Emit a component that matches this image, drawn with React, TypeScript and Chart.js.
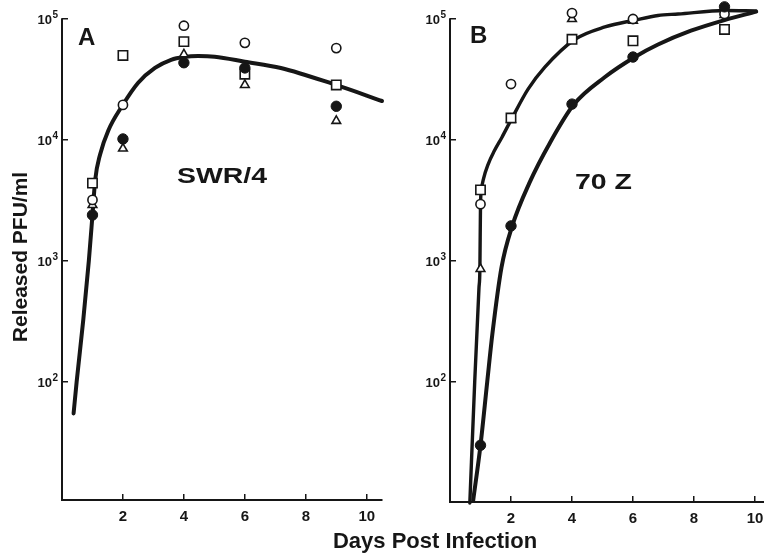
import React, { useEffect, useRef } from "react";
import { Chart, registerables } from "chart.js";

Chart.register(...registerables);

// ---------- data ----------
const days = [1, 2, 4, 6, 9];

// Panel A (SWR/4)
const aOpenCircle = [3200, 19500, 88000, 63500, 57500];
const aFilledCircle = [2400, 10200, 43500, 39400, 19000];
const aOpenSquare = [4400, 50000, 65000, 35000, 28500];
const aOpenTriangle = [2900, 8500, 51000, 28500, 14400];

const curveADays = [0.38, 0.48, 0.7, 0.88, 1.0, 1.09, 1.25, 1.52, 1.99, 2.5, 3.05, 3.58, 4.0, 4.47, 5.01, 6.0, 7.18, 8.99, 10.5];
const curveAPfu = [55, 100, 330, 1000, 2400, 4700, 7600, 12000, 19400, 29700, 39400, 46000, 48500, 49400, 48800, 44400, 39400, 28500, 21000];

// Panel B (70 Z)
const bOpenCircle = [2950, 29000, 112000, 100000, 110000];
const bFilledCircle = [30, 1950, 19800, 48500, 126000];
const bOpenSquare = [3870, 15200, 68000, 66000, 82000];
const bOpenTriangle = [860, 14800, 100000, 97000, 108000];

const curveB1Days = [0.65, 0.81, 0.95, 0.98, 1.0, 1.03, 1.1, 1.25, 1.45, 1.7, 2.03, 2.56, 3.11, 4.1, 5.08, 6.07, 6.82, 7.48, 9.02, 10.03];
const curveB1Pfu = [10, 100, 600, 860, 2900, 3870, 4800, 6300, 8100, 10500, 15100, 26300, 40000, 68000, 86000, 98000, 107000, 110000, 117500, 116500];

const curveB2Days = [0.76, 1.0, 1.22, 1.39, 1.69, 2.04, 2.6, 3.28, 4.07, 5.07, 6.06, 6.82, 7.9, 9.0, 10.04];
const curveB2Pfu = [10.5, 30, 100, 250, 890, 1950, 4400, 9500, 19800, 33000, 48500, 61500, 80000, 98000, 115000];

// ticks
const xTickValues = [2, 4, 6, 8, 10];
const yTickValues = [100, 1000, 10000, 100000];
const yTickBase = "10";
const yTickExponents = ["2", "3", "4", "5"];
const yAxisTop = 100000;

// text
const yTitle = "Released PFU/ml";
const xTitle = "Days Post Infection";
const panelALetter = "A";
const panelBLetter = "B";
const panelAName = "SWR/4";
const panelBName = "70 Z";

// ---------- styling ----------
const W = 764;
const H = 554;
const INK = "#161616";
const FONT = "'Liberation Sans', Arial, Helvetica, sans-serif";
const DECADE_PX = 121;
const TOP_PX = 19; // pixel row of 10^5
const AREA_TOP = 4; // chart area starts a little above 10^5 so high points still draw

type Label = {
  text: string;
  x: number;
  y: number;
  size: number;
  width?: number;
  rotate?: boolean;
  align?: CanvasTextAlign;
};

function textPlugin(id: string, labels: Label[]) {
  return {
    id,
    beforeDatasetsDraw(chart: any) {
      // y axis line, from the 10^5 tick down to the x axis
      const ctx: CanvasRenderingContext2D = chart.ctx;
      const ys = chart.scales.y;
      const x = chart.chartArea.left;
      ctx.save();
      ctx.strokeStyle = INK;
      ctx.lineWidth = 2;
      ctx.beginPath();
      ctx.moveTo(x, ys.getPixelForValue(yAxisTop) - 0.75);
      ctx.lineTo(x, chart.chartArea.bottom + 1);
      ctx.stroke();
      ctx.restore();
    },
    afterDraw(chart: any) {
      const ctx: CanvasRenderingContext2D = chart.ctx;
      ctx.save();
      ctx.fillStyle = INK;
      for (const l of labels) {
        ctx.save();
        ctx.font = `bold ${l.size}px ${FONT}`;
        ctx.textBaseline = "alphabetic";
        ctx.textAlign = l.align || "left";
        ctx.translate(l.x, l.y);
        if (l.rotate) ctx.rotate(-Math.PI / 2);
        if (l.width) {
          const w = ctx.measureText(l.text).width;
          ctx.scale(l.width / w, 1);
        }
        ctx.fillText(l.text, 0, 0);
        ctx.restore();
      }
      // y tick labels: "10" with a raised exponent, placed by the y scale
      const ys = chart.scales.y;
      const right = chart.chartArea.left - 4;
      yTickValues.forEach((v, i) => {
        const py = ys.getPixelForValue(v);
        ctx.font = `bold 10px ${FONT}`;
        const ew = ctx.measureText(yTickExponents[i]).width;
        ctx.textAlign = "right";
        ctx.textBaseline = "alphabetic";
        ctx.fillText(yTickExponents[i], right, py - 1);
        ctx.font = `bold 13px ${FONT}`;
        ctx.fillText(yTickBase, right - ew - 0.5, py + 5);
      });
      ctx.restore();
    },
  };
}

const toXY = (xs: number[], ys: number[]) => xs.map((x, i) => ({ x, y: ys[i] }));

function markerSets(open: number[], filled: number[], square: number[], tri: number[]) {
  const common = { showLine: false, clip: false as const, borderColor: INK, order: 0 };
  return [
    {
      ...common,
      label: "filled circle",
      data: toXY(days, filled),
      pointStyle: "circle",
      pointRadius: 5.2,
      backgroundColor: INK,
      borderWidth: 1,
    },
    {
      ...common,
      label: "open circle",
      data: toXY(days, open),
      pointStyle: "circle",
      pointRadius: 4.6,
      backgroundColor: "#ffffff",
      borderWidth: 1.6,
    },
    {
      ...common,
      label: "open square",
      data: toXY(days, square),
      pointStyle: "rect",
      pointRadius: 6.6,
      backgroundColor: "#ffffff",
      borderWidth: 1.6,
    },
    {
      ...common,
      label: "open triangle",
      data: toXY(days, tri),
      pointStyle: "triangle",
      pointRadius: 5,
      backgroundColor: "#ffffff",
      borderWidth: 1.6,
    },
  ];
}

function curveSet(xs: number[], ys: number[], width: number) {
  return {
    label: "curve",
    data: toXY(xs, ys),
    showLine: true,
    pointRadius: 0,
    borderColor: INK,
    borderWidth: width,
    borderCapStyle: "round" as const,
    cubicInterpolationMode: "monotone" as const,
    clip: false as const,
    order: 5,
  };
}

type PanelOpts = {
  left: number;
  right: number;
  bottom: number;
  xMax: number;
  datasets: any[];
  plugin: any;
};

function makeConfig(p: PanelOpts): any {
  const yAxisWidth = 62;
  const yMax = Math.pow(10, 5 + (TOP_PX - AREA_TOP) / DECADE_PX);
  const yMin = Math.pow(10, 5 - (p.bottom - TOP_PX) / DECADE_PX);
  return {
    type: "scatter",
    data: { datasets: p.datasets },
    options: {
      responsive: false,
      animation: false,
      events: [],
      layout: {
        autoPadding: false,
        padding: { left: p.left - yAxisWidth, right: W - p.right, top: AREA_TOP, bottom: 0 },
      },
      plugins: {
        legend: { display: false },
        tooltip: { enabled: false },
      },
      scales: {
        x: {
          type: "linear",
          min: 0,
          max: p.xMax,
          afterFit: (s: any) => {
            s.height = H - p.bottom;
            s.paddingLeft = 0;
            s.paddingRight = 0;
          },
          afterBuildTicks: (s: any) => {
            s.ticks = xTickValues.map((value) => ({ value }));
          },
          grid: {
            drawOnChartArea: false,
            drawTicks: true,
            tickLength: -6,
            color: INK,
            lineWidth: 1.5,
          },
          border: { display: true, color: INK, width: 2 },
          ticks: {
            color: INK,
            padding: 14,
            maxRotation: 0,
            font: { family: FONT, size: 15, weight: "bold" },
            callback: (v: any) => String(v),
          },
        },
        y: {
          type: "logarithmic",
          min: yMin,
          max: yMax,
          afterFit: (s: any) => {
            s.width = yAxisWidth;
            s.paddingTop = 0;
            s.paddingBottom = 0;
          },
          afterBuildTicks: (s: any) => {
            s.ticks = yTickValues.map((value) => ({ value }));
          },
          grid: {
            drawOnChartArea: false,
            drawTicks: true,
            tickLength: -6,
            color: INK,
            lineWidth: 1.5,
          },
          border: { display: false },
          ticks: { display: false },
        },
      },
    },
    plugins: [p.plugin],
  };
}

export default function App() {
  const refA = useRef<HTMLCanvasElement | null>(null);
  const refB = useRef<HTMLCanvasElement | null>(null);

  useEffect(() => {
    if (!refA.current || !refB.current) return;

    const plugA = textPlugin("textA", [
      { text: yTitle, x: 27, y: 257, size: 21, rotate: true, align: "center" },
      { text: xTitle, x: 435, y: 548, size: 22, align: "center" },
      { text: panelALetter, x: 78, y: 45, size: 24 },
      { text: panelAName, x: 177, y: 183, size: 22, width: 90 },
    ]);
    const plugB = textPlugin("textB", [
      { text: panelBLetter, x: 470, y: 43, size: 24 },
      { text: panelBName, x: 575, y: 189, size: 22, width: 57 },
    ]);

    const chartA = new Chart(
      refA.current,
      makeConfig({
        left: 62,
        right: 382,
        bottom: 500,
        xMax: 10.5,
        datasets: [
          ...markerSets(aOpenCircle, aFilledCircle, aOpenSquare, aOpenTriangle),
          curveSet(curveADays, curveAPfu, 4),
        ],
        plugin: plugA,
      })
    );

    const chartB = new Chart(
      refB.current,
      makeConfig({
        left: 450,
        right: 764,
        bottom: 502,
        xMax: 314 / 30.5,
        datasets: [
          ...markerSets(bOpenCircle, bFilledCircle, bOpenSquare, bOpenTriangle),
          curveSet(curveB1Days, curveB1Pfu, 3.4),
          curveSet(curveB2Days, curveB2Pfu, 4),
        ],
        plugin: plugB,
      })
    );

    return () => {
      chartA.destroy();
      chartB.destroy();
    };
  }, []);

  const canvasStyle: React.CSSProperties = {
    position: "absolute",
    left: 0,
    top: 0,
    width: W,
    height: H,
  };

  return (
    <div
      style={{
        position: "fixed",
        left: 0,
        top: 0,
        width: W,
        height: H,
        background: "#ffffff",
        overflow: "hidden",
      }}
    >
      <canvas ref={refA} width={W} height={H} style={canvasStyle} />
      <canvas ref={refB} width={W} height={H} style={canvasStyle} />
    </div>
  );
}
